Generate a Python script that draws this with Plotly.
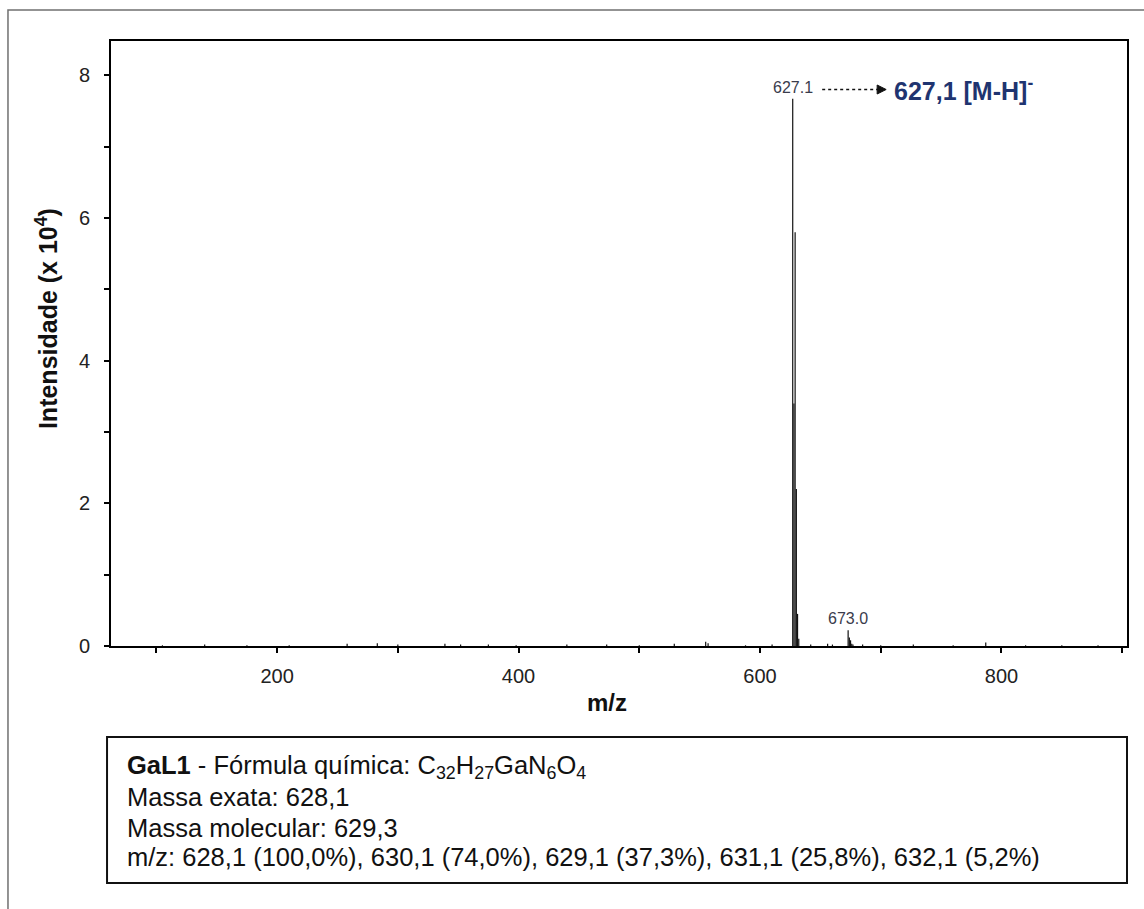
import plotly.graph_objects as go

# Mass spectrum of GaL1 (negative mode), intensities in units of 10^4
mz = [105, 140, 175, 210, 258, 283, 300, 339, 352, 375, 398, 440, 473, 500,
      529, 555, 557, 588, 610, 627.1, 628.1, 629.1, 630.1, 631.1, 632.1,
      642, 656, 660, 673.0, 674.0, 675.0, 676.0, 677.0, 685, 700, 727, 760,
      787, 820, 850, 880]
intensity = [0.01, 0.02, 0.01, 0.01, 0.03, 0.04, 0.02, 0.03, 0.02, 0.02, 0.01,
             0.02, 0.02, 0.01, 0.03, 0.06, 0.04, 0.01, 0.02, 7.67, 3.40, 5.80,
             2.20, 0.45, 0.10, 0.02, 0.03, 0.02, 0.22, 0.12, 0.08, 0.03, 0.02,
             0.02, 0.01, 0.02, 0.01, 0.05, 0.01, 0.01, 0.01]

x_major_ticks = [200, 400, 600, 800]
x_minor_ticks = [100, 300, 500, 700, 900]
y_major_ticks = [0, 2, 4, 6, 8]
y_minor_ticks = [1, 3, 5, 7]

labelled_peaks = [627.1, 673.0]
peak_labels = ["627.1", "673.0"]

# stick spectrum: one vertical segment per m/z value
xs, ys = [], []
for m, h in zip(mz, intensity):
    xs += [m, m, None]
    ys += [0, h, None]

fig = go.Figure()
fig.add_trace(go.Scatter(x=xs, y=ys, mode="lines",
                         line=dict(color="#111111", width=1.2),
                         hoverinfo="skip", showlegend=False))

FONT = "Liberation Sans, Arial, sans-serif"

for m, txt in zip(labelled_peaks, peak_labels):
    h = intensity[mz.index(m)]
    fig.add_annotation(x=m, y=h, text=txt, showarrow=False,
                       xanchor="center", yanchor="bottom", yshift=1,
                       font=dict(family=FONT, size=16, color="#3a3c4c"))

# dotted arrow pointing to the [M-H]- assignment
arrow_y = 7.80
fig.add_shape(type="line", xref="x", yref="y", x0=651.5, x1=698, y0=arrow_y, y1=arrow_y,
              line=dict(color="#111111", width=1.5, dash="dot"))
fig.add_shape(type="path", xref="x", yref="y", xsizemode="pixel", ysizemode="pixel",
              xanchor=704.5, yanchor=arrow_y, path="M -9 -4.5 L 0 0 L -9 4.5 Z",
              fillcolor="#111111", line=dict(color="#111111", width=1))
fig.add_annotation(x=709, y=arrow_y, text="<b>627,1 [M-H]<sup>-</sup></b>",
                   showarrow=False, xanchor="left", yanchor="middle", yshift=1,
                   font=dict(family=FONT, size=25, color="#1f3470"))

# compound information box below the plot
fig.add_shape(type="rect", xref="paper", yref="paper",
              x0=-0.0039, x1=1.0, y0=-0.3917, y1=-0.1504,
              line=dict(color="#111111", width=2), fillcolor="white")
info_lines = [
    "<b>GaL1</b> - Fórmula química: C<sub>32</sub>H<sub>27</sub>GaN<sub>6</sub>O<sub>4</sub>",
    "Massa exata: 628,1",
    "Massa molecular: 629,3",
    "m/z: 628,1 (100,0%), 630,1 (74,0%), 629,1 (37,3%), 631,1 (25,8%), 632,1 (5,2%)",
]
info_y = [-0.200, -0.2496, -0.3008, -0.3488]
for txt, yy in zip(info_lines, info_y):
    fig.add_annotation(xref="paper", yref="paper", x=0.0138, y=yy, text=txt,
                       showarrow=False, xanchor="left", yanchor="middle",
                       font=dict(family=FONT, size=25.5, color="#111111"))

# axis titles
fig.add_annotation(xref="paper", yref="paper", x=0.488, y=-0.0926,
                   text="<b>m/z</b>", showarrow=False,
                   xanchor="center", yanchor="middle",
                   font=dict(family=FONT, size=24, color="#111111"))
fig.add_annotation(xref="paper", yref="paper", x=-0.063, y=0.542,
                   text="<b>Intensidade (x 10<sup>4</sup>)</b>", showarrow=False,
                   textangle=-90, xanchor="center", yanchor="middle",
                   font=dict(family=FONT, size=25, color="#111111"))

# outer page frame (top and left edges)
fig.add_shape(type="path", xref="paper", yref="paper",
              path="M -0.1014 -0.46 L -0.1014 1.0512 L 1.05 1.0512",
              line=dict(color="#707070", width=1.5))

axis_common = dict(showline=True, linecolor="black", linewidth=2, mirror=True,
                   ticks="outside", ticklen=5, tickwidth=1.5, tickcolor="black",
                   showgrid=False, zeroline=False,
                   tickfont=dict(family=FONT, size=20, color="#222222"))
minor_common = dict(ticks="outside", ticklen=5, tickwidth=1.5, tickcolor="black",
                    showgrid=False)

fig.update_xaxes(range=[62.4, 904], tickvals=x_major_ticks,
                 minor=dict(tickvals=x_minor_ticks, **minor_common),
                 ticklabelstandoff=6, **axis_common)
fig.update_yaxes(range=[0, 8.48], tickvals=y_major_ticks,
                 minor=dict(tickvals=y_minor_ticks, **minor_common),
                 ticklabelstandoff=10, **axis_common)

fig.update_layout(width=1144, height=909,
                  margin=dict(l=111, r=17, t=41, b=263),
                  paper_bgcolor="white", plot_bgcolor="white",
                  showlegend=False)

fig.write_html("out.html")
